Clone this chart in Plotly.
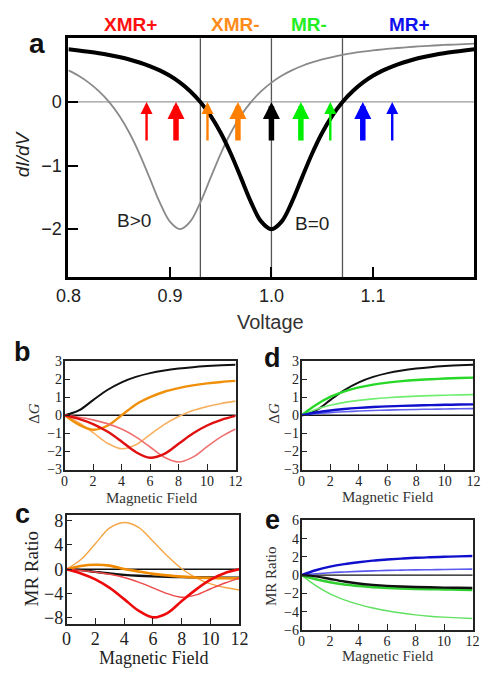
import plotly.graph_objects as go

# ---------------- data ----------------
# Panel a: dI/dV vs voltage
voltage = [0.80, 0.81, 0.82, 0.83, 0.84, 0.85, 0.86, 0.87, 0.88, 0.89, 0.90,
           0.91, 0.92, 0.93, 0.94, 0.95, 0.96, 0.97, 0.98, 0.99, 1.00,
           1.01, 1.02, 1.03, 1.04, 1.05, 1.06, 1.07, 1.08, 1.09, 1.10,
           1.11, 1.12, 1.13, 1.14, 1.15, 1.16, 1.17, 1.18, 1.19, 1.20]
didv_b0 = [0.827, 0.809, 0.789, 0.766, 0.738, 0.705, 0.667, 0.620, 0.564, 0.495, 0.410,
           0.303, 0.169, 0.000, -0.215, -0.485, -0.815, -1.194, -1.579, -1.882, -2.000,
           -1.882, -1.579, -1.194, -0.815, -0.485, -0.215, 0.000, 0.169, 0.303, 0.410,
           0.495, 0.564, 0.620, 0.667, 0.705, 0.738, 0.766, 0.789, 0.809, 0.827]
didv_bpos = [0.495, 0.410, 0.303, 0.169, 0.000, -0.215, -0.485, -0.815, -1.194, -1.579, -1.882,
             -2.000, -1.882, -1.579, -1.194, -0.815, -0.485, -0.215, 0.000, 0.169, 0.303,
             0.410, 0.495, 0.564, 0.620, 0.667, 0.705, 0.738, 0.766, 0.789, 0.809,
             0.827, 0.842, 0.855, 0.867, 0.878, 0.887, 0.895, 0.902, 0.909, 0.915]
region_bounds = [0.93, 1.00, 1.07]
arrow_v = [0.877, 0.906, 0.937, 0.967, 1.000, 1.029, 1.058, 1.090, 1.119]
arrow_color = ['#ff0000', '#ff0000', '#ff8000', '#ff8000', '#000000',
               '#00ee00', '#00ee00', '#0000ff', '#0000ff']
arrow_thick = [False, True, False, True, True, True, False, True, False]
arrow_tail = -0.63
region_names = ['XMR+', 'XMR-', 'MR-', 'MR+']
region_colors = ['#ff1010', '#ff8c1a', '#22ee22', '#1010ee']
region_x_px = [123, 233, 310, 415]

# Panels b-e: vs magnetic field
field = [0, 1, 2, 3, 4, 5, 6, 7, 8, 9, 10, 11, 12]
dG_black = [0, 0.265, 0.837, 1.397, 1.823, 2.123, 2.331, 2.478, 2.583, 2.661, 2.719, 2.764, 2.799]
dG_orange_thick = [0, -0.52, -0.80, -0.58, 0.0, 0.60, 1.00, 1.30, 1.50, 1.65, 1.76, 1.84, 1.90]
dG_orange_thin = [0, -0.413, -0.962, -1.543, -1.852, -1.633, -1.072, -0.504, -0.065, 0.26, 0.48, 0.65, 0.78]
dG_red_thick = [0, -0.201, -0.489, -0.901, -1.448, -2.032, -2.346, -2.132, -1.575, -1.005, -0.564, -0.253, -0.036]
dG_red_thin = [0, -0.106, -0.253, -0.462, -0.763, -1.192, -1.753, -2.324, -2.582, -2.312, -1.737, -1.179, -0.755]

dG_green_thick = [0, 0.572, 1.014, 1.327, 1.544, 1.697, 1.806, 1.887, 1.947, 1.993, 2.029, 2.058, 2.081]
dG_green_thin = [0, 0.326, 0.553, 0.712, 0.825, 0.909, 0.971, 1.019, 1.056, 1.085, 1.109, 1.128, 1.144]
dG_blue_thick = [0, 0.155, 0.266, 0.347, 0.408, 0.455, 0.491, 0.520, 0.544, 0.563, 0.578, 0.592, 0.603]
dG_blue_thin = [0, 0.085, 0.148, 0.196, 0.233, 0.263, 0.287, 0.307, 0.323, 0.336, 0.348, 0.357, 0.365]

mr_black = [0, -0.13, -0.42, -0.70, -0.91, -1.06, -1.17, -1.24, -1.29, -1.33, -1.36, -1.38, -1.40]
mr_orange_thick = [0, 0.55, 0.75, 0.60, 0.05, -0.35, -0.75, -1.00, -1.20, -1.35, -1.42, -1.47, -1.50]
mr_orange_thin = [0, 1.6, 4.2, 6.8, 7.7, 6.9, 4.6, 2.2, 0.1, -1.4, -2.4, -3.0, -3.4]
mr_red_thick = [0, -0.68, -1.65, -3.05, -4.9, -6.8, -7.9, -7.2, -5.2, -3.3, -1.7, -0.6, 0.0]
mr_red_thin = [0, -0.19, -0.45, -0.82, -1.35, -2.1, -3.05, -4.0, -4.6, -4.2, -3.2, -2.25, -1.45]

mr_green_thick = [0, -0.44, -0.78, -1.03, -1.19, -1.31, -1.39, -1.45, -1.50, -1.54, -1.56, -1.59, -1.61]
mr_green_thin = [0, -1.15, -2.05, -2.70, -3.20, -3.60, -3.90, -4.15, -4.35, -4.50, -4.60, -4.68, -4.75]
mr_blue_thick = [0, 0.54, 0.93, 1.21, 1.42, 1.59, 1.71, 1.81, 1.90, 1.96, 2.01, 2.06, 2.10]
mr_blue_thin = [0, 0.15, 0.27, 0.35, 0.42, 0.47, 0.52, 0.55, 0.58, 0.60, 0.62, 0.64, 0.66]

# ---------------- figure ----------------
W, H = 493, 679


def px(x):
    return x / W


def py(y):
    return 1 - y / H


fig = go.Figure()


def add_line(x, y, xa, ya, color, width):
    fig.add_trace(go.Scatter(x=x, y=y, xaxis=xa, yaxis=ya, mode='lines',
                             line=dict(color=color, width=width, shape='spline', smoothing=1.0),
                             hoverinfo='skip', showlegend=False))


# panel a
add_line(voltage, didv_bpos, 'x', 'y', '#8a8a8a', 1.8)
add_line(voltage, didv_b0, 'x', 'y', '#000000', 4)

# panel b
add_line(field, dG_black, 'x2', 'y2', '#111111', 2)
add_line(field, dG_orange_thin, 'x2', 'y2', '#f8b060', 1.6)
add_line(field, dG_orange_thick, 'x2', 'y2', '#f0900a', 2.4)
add_line(field, dG_red_thin, 'x2', 'y2', '#f07070', 1.6)
add_line(field, dG_red_thick, 'x2', 'y2', '#e01010', 2.4)

# panel c
add_line(field, mr_black, 'x3', 'y3', '#111111', 2.4)
add_line(field, mr_orange_thin, 'x3', 'y3', '#f6a545', 1.4)
add_line(field, mr_orange_thick, 'x3', 'y3', '#f08a00', 2.6)
add_line(field, mr_red_thin, 'x3', 'y3', '#ee4848', 1.4)
add_line(field, mr_red_thick, 'x3', 'y3', '#ee0a0a', 2.6)

# panel d
add_line(field, dG_black, 'x4', 'y4', '#111111', 2)
add_line(field, dG_green_thin, 'x4', 'y4', '#70ee70', 1.6)
add_line(field, dG_green_thick, 'x4', 'y4', '#28d828', 2.4)
add_line(field, dG_blue_thin, 'x4', 'y4', '#6060ee', 1.6)
add_line(field, dG_blue_thick, 'x4', 'y4', '#1010cc', 2.4)

# panel e
add_line(field, mr_blue_thin, 'x5', 'y5', '#5a5aee', 1.6)
add_line(field, mr_blue_thick, 'x5', 'y5', '#1010cc', 2.4)
add_line(field, mr_green_thin, 'x5', 'y5', '#60e060', 1.4)
add_line(field, mr_green_thick, 'x5', 'y5', '#30d030', 2.6)
add_line(field, mr_black, 'x5', 'y5', '#111111', 2.4)

shapes = []
for v in region_bounds:
    shapes.append(dict(type='line', xref='x', yref='y domain', x0=v, x1=v, y0=0, y1=1,
                       line=dict(color='#555555', width=1.3), layer='below'))
shapes.append(dict(type='line', xref='x domain', yref='y', x0=0, x1=1, y0=0, y1=0,
                   line=dict(color='#9a9a9a', width=1.3), layer='below'))
for k in ['2', '3', '4', '5']:
    shapes.append(dict(type='line', xref='x%s domain' % k, yref='y%s' % k, x0=0, x1=1, y0=0, y1=0,
                       line=dict(color='#111111', width=1.4), layer='below'))

annotations = []
# arrows
for v, c, thick in zip(arrow_v, arrow_color, arrow_thick):
    annotations.append(dict(x=v, y=0, ax=v, ay=arrow_tail, xref='x', yref='y', axref='x', ayref='y',
                            text='', showarrow=True, arrowhead=2, standoff=0,
                            arrowwidth=5.5 if thick else 2.4,
                            arrowsize=0.62 if thick else 1.0, arrowcolor=c))
# region names
for name, c, xp in zip(region_names, region_colors, region_x_px):
    annotations.append(dict(x=px(xp), y=py(18), xref='paper', yref='paper', text='<b>%s</b>' % name,
                            showarrow=False, xanchor='center', yanchor='middle',
                            font=dict(family='Liberation Sans', size=19, color=c)))

SANS = 'Liberation Sans'
SERIF = 'Liberation Serif'


def label(text, x, y, size, family=SANS, angle=0, color='#111111'):
    annotations.append(dict(x=px(x), y=py(y), xref='paper', yref='paper', text=text, showarrow=False,
                            xanchor='center', yanchor='middle', textangle=angle,
                            font=dict(family=family, size=size, color=color)))


label('<b>a</b>', 25, 37, 28)
label('<b>b</b>', 10, 353, 27)
label('<b>c</b>', 10, 518, 27)
label('<b>d</b>', 272, 359, 27)
label('<b>e</b>', 272, 525, 27)

label('Voltage', 270, 322, 20, color='#333333')
label('<i>dI/dV</i>', 10, 150, 19, angle=-90, color='#222222')
annotations.append(dict(x=0.865, y=-1.86, xref='x', yref='y', text='B>0', showarrow=False,
                        font=dict(family=SANS, size=19, color='#222222')))
annotations.append(dict(x=1.040, y=-1.91, xref='x', yref='y', text='B=0', showarrow=False,
                        font=dict(family=SANS, size=19, color='#222222')))

label('Magnetic Field', 145, 502, 15, SERIF, color='#333333')
label('Magnetic Field', 392, 501, 15, SERIF, color='#333333')
label('Magnetic Field', 147, 666, 18, SERIF, color='#222222')
label('Magnetic Field', 392, 664, 15, SERIF, color='#333333')
label('Δ<i>G</i>', 22, 416, 15, SERIF, angle=-90, color='#333333')
label('Δ<i>G</i>', 273, 415, 15, SERIF, angle=-90, color='#333333')
label('MR Ratio', 19, 575, 19, SERIF, angle=-90, color='#222222')
label('MR Ratio', 270, 582, 15, SERIF, angle=-90, color='#333333')

axa = dict(showgrid=False, zeroline=False, showline=True, linecolor='black', linewidth=3, mirror=True,
           ticks='inside', ticklen=10, tickwidth=2, tickcolor='black',
           tickfont=dict(family=SANS, size=18, color='#222222'))


def axs(size):
    return dict(showgrid=False, zeroline=False, showline=True, linecolor='#222222', linewidth=1.5,
                mirror=True, ticks='inside', ticklen=6, tickwidth=1.4, tickcolor='#222222',
                ticklabelstandoff=-2,
                tickfont=dict(family=SERIF, size=size, color='#222222'))


fig.update_layout(
    width=W, height=H, autosize=False, margin=dict(l=0, r=0, t=0, b=0),
    paper_bgcolor='white', plot_bgcolor='white', showlegend=False,
    xaxis=dict(axa, domain=[px(58), px(483)], range=[0.8, 1.2], anchor='y',
               tickvals=[0.8, 0.9, 1.0, 1.1], ticktext=['0.8', '0.9', '1.0', '1.1']),
    yaxis=dict(axa, domain=[py(276), py(32)], range=[-2.75, 1.0], anchor='x',
               tickvals=[-2, -1, 0]),
    xaxis2=dict(axs(14), domain=[px(54), px(233)], range=[0, 12], dtick=2, anchor='y2'),
    yaxis2=dict(axs(14), domain=[py(473), py(362)], range=[-3, 3], dtick=1, anchor='x2'),
    xaxis3=dict(axs(18), domain=[px(56), px(237)], range=[0, 12], dtick=2, anchor='y3'),
    yaxis3=dict(axs(18), domain=[py(631), py(519)], range=[-9, 9], tickvals=[-8, -4, 0, 4, 8], anchor='x3'),
    xaxis4=dict(axs(14), domain=[px(302), px(482)], range=[0, 12], dtick=2, anchor='y4'),
    yaxis4=dict(axs(14), domain=[py(473), py(362)], range=[-3, 3], dtick=1, anchor='x4'),
    xaxis5=dict(axs(14), domain=[px(302), px(481)], range=[0, 12], dtick=2, anchor='y5'),
    yaxis5=dict(axs(14), domain=[py(637), py(525)], range=[-6, 6], dtick=2, anchor='x5'),
    shapes=shapes, annotations=annotations,
)

fig.write_html('out.html')
